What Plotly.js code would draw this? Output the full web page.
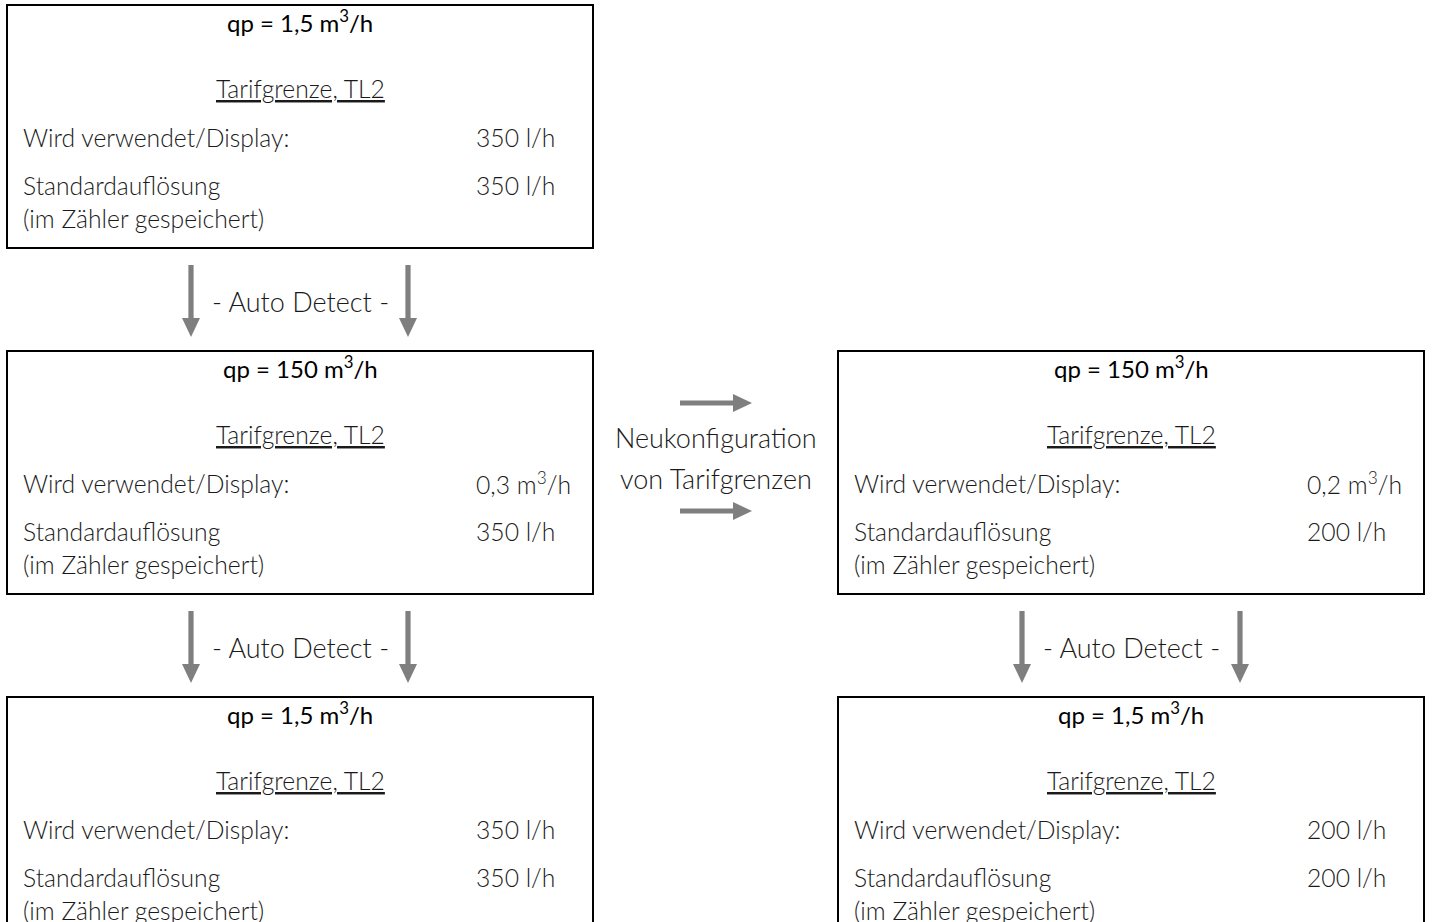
<!DOCTYPE html>
<html>
<head>
<meta charset="utf-8">
<script src="https://cdn.plot.ly/plotly-3.0.1.min.js"></script>
<style>html,body{margin:0;padding:0;background:#fff;}#chart{width:1432px;height:922px;}</style>
</head>
<body>
<div id="chart"></div>
<script>
// ---- content (data) ----
const boxTitles = ["qp = 1,5 m<sup>3</sup>/h", "qp = 150 m<sup>3</sup>/h", "qp = 1,5 m<sup>3</sup>/h", "qp = 150 m<sup>3</sup>/h", "qp = 1,5 m<sup>3</sup>/h"];
const sectionLabels = ["Tarifgrenze, TL2", "Tarifgrenze, TL2", "Tarifgrenze, TL2", "Tarifgrenze, TL2", "Tarifgrenze, TL2"];
const rowLabels = ["Wird verwendet/Display:", "Standardauflösung", "(im Zähler gespeichert)"];
const displayValues = ["350 l/h", "0,3 m<sup>3</sup>/h", "350 l/h", "0,2 m<sup>3</sup>/h", "200 l/h"];
const defaultValues = ["350 l/h", "350 l/h", "350 l/h", "200 l/h", "200 l/h"];
const autoDetectLabel = "- Auto Detect -";
const reconfigLabels = ["Neukonfiguration", "von Tarifgrenzen"];

// ---- layout geometry (pixels) ----
const boxLeft = [7, 7, 7, 838, 838];
const boxTop = [5, 351, 697, 351, 697];
const boxW = 586, boxH = 243;
const vArrowPairs = [ // [x1, x2, yTop, yTip, labelX]
  [191, 408, 265, 337, 300],
  [191, 408, 611, 683, 300],
  [1022, 1240, 611, 683, 1131]
];
const hArrows = [[680, 752, 403], [680, 752, 511]];

const fam = "Lato, 'Open Sans', sans-serif";
const bodyFont = {family: fam, size: 24.7, color: "#1a1a1a", weight: 300};
const bigFont = {family: fam, size: 27, color: "#1a1a1a", weight: 300};
const titleFont = {family: fam, size: 24, color: "#000", weight: 400};
const arrowColor = "#7f7f7f";

const shapes = [];
const annotations = [];
function ann(x, y, text, font, xanchor) {
  annotations.push({x: x, y: y, xref: "x", yref: "y", text: text, showarrow: false,
    xanchor: xanchor || "center", yanchor: "middle", font: font});
}

for (let i = 0; i < boxLeft.length; i++) {
  const L = boxLeft[i], T = boxTop[i];
  shapes.push({type: "rect", xref: "x", yref: "y", x0: L, x1: L + boxW, y0: T, y1: T + boxH,
    line: {color: "#000", width: 2}, fillcolor: "rgba(0,0,0,0)"});
  const cx = L + boxW / 2;
  ann(cx, T + 16, boxTitles[i], titleFont);
  ann(cx, T + 83, "<u>" + sectionLabels[i] + "</u>", bodyFont);
  ann(L + 14, T + 132, rowLabels[0], bodyFont, "left");
  ann(L + 467, T + 132, displayValues[i], bodyFont, "left");
  ann(L + 14, T + 180, rowLabels[1], bodyFont, "left");
  ann(L + 467, T + 180, defaultValues[i], bodyFont, "left");
  ann(L + 14, T + 213, rowLabels[2], bodyFont, "left");
}

function vArrow(x, y0, y1) {
  const sw = 2.6, hw = 9, hl = 19;
  const yh = y1 - hl;
  return {type: "path", xref: "x", yref: "y", fillcolor: arrowColor, line: {width: 0},
    path: `M${x - sw},${y0} L${x + sw},${y0} L${x + sw},${yh} L${x + hw},${yh} L${x},${y1} L${x - hw},${yh} L${x - sw},${yh} Z`};
}
function hArrow(x0, x1, y) {
  const sw = 2.6, hw = 9, hl = 19;
  const xh = x1 - hl;
  return {type: "path", xref: "x", yref: "y", fillcolor: arrowColor, line: {width: 0},
    path: `M${x0},${y - sw} L${xh},${y - sw} L${xh},${y - hw} L${x1},${y} L${xh},${y + hw} L${xh},${y + sw} L${x0},${y + sw} Z`};
}
vArrowPairs.forEach(p => {
  shapes.push(vArrow(p[0], p[2], p[3]));
  shapes.push(vArrow(p[1], p[2], p[3]));
  ann(p[4], (p[2] + p[3]) / 2, autoDetectLabel, bigFont);
});
hArrows.forEach(h => shapes.push(hArrow(h[0], h[1], h[2])));
ann(716, 437, reconfigLabels[0], bigFont);
ann(716, 478, reconfigLabels[1], bigFont);

const layout = {
  width: 1432, height: 922,
  margin: {l: 0, r: 0, t: 0, b: 0, pad: 0},
  paper_bgcolor: "#fff", plot_bgcolor: "#fff",
  showlegend: false,
  xaxis: {range: [0, 1432], visible: false, fixedrange: true},
  yaxis: {range: [922, 0], visible: false, fixedrange: true},
  shapes: shapes,
  annotations: annotations
};
Plotly.newPlot("chart", [], layout, {displayModeBar: false, staticPlot: true});
</script>
</body>
</html>
